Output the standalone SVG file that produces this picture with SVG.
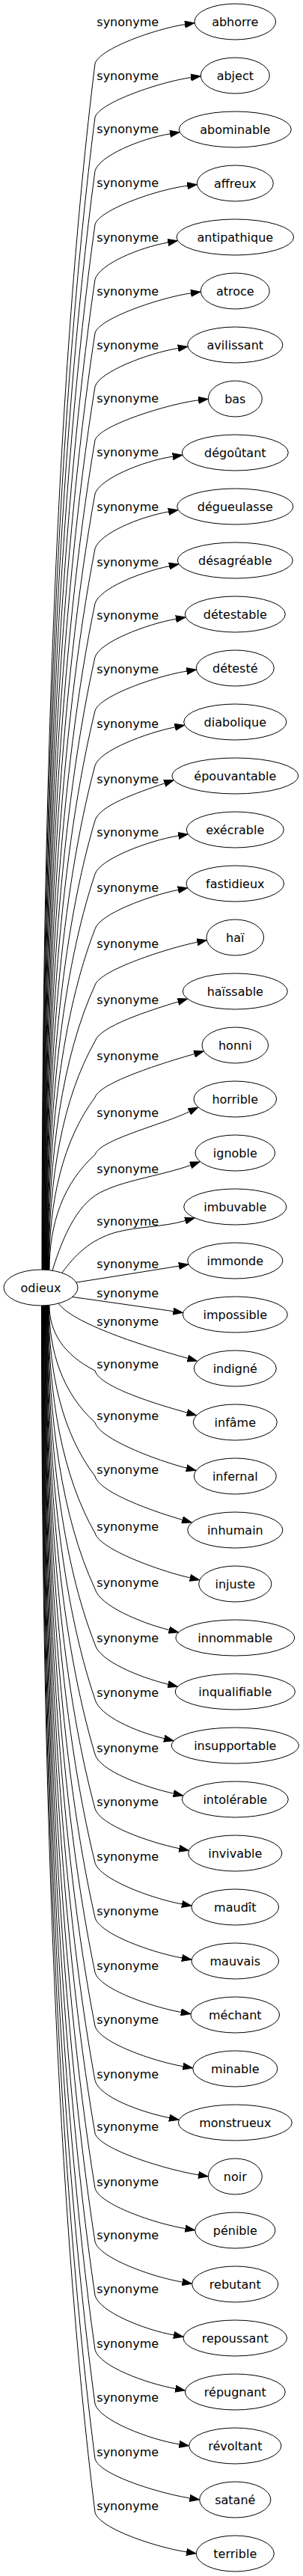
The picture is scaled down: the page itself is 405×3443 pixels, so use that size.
<svg xmlns="http://www.w3.org/2000/svg" width="405" height="3443" viewBox="0 0 405 3443">
<style>
text{font-family:"DejaVu Sans","Liberation Sans",sans-serif;font-size:16px;fill:#000;text-anchor:middle}
.n ellipse{fill:none;stroke:#000;stroke-width:1}
.e path{fill:none;stroke:#000;stroke-width:1;marker-end:url(#ah)}
</style>
<defs>
<marker id="ah" viewBox="0 0 14 10" refX="0" refY="5" markerWidth="14" markerHeight="10" markerUnits="userSpaceOnUse" orient="auto"><path d="M0,0.33 L13.3,5 L0,9.67 z" fill="#000" stroke="#000" stroke-width="0.8"/></marker>
</defs>
<rect width="405" height="3443" fill="#fff"/>
<g id="edges" class="e">
<path d="M56,1697 C56,1052 77.3,488 127,85 C133,65 207.4,38.7 247,32.7"/>
<path d="M56.5,1697 C56.5,1081 77.7,541.8 127,156.7 C133,136.7 215.5,109.2 255.1,103.6"/>
<path d="M57,1697 C57,1109.5 78,595.5 127,228.3 C133,208.3 187.6,185.4 227.1,178.9"/>
<path d="M57.5,1697 C57.5,1138.2 78.4,649.3 127,300 C133,280 210.6,253.2 250.3,248.3"/>
<path d="M58,1697 C58,1167.5 78.7,704.2 127,373.3 C133,353.3 185,331.2 224.4,324.1"/>
<path d="M58.5,1697 C58.5,1196.2 79,758 127,445 C133,425 215.5,397.5 255.1,391.9"/>
<path d="M59,1697 C59,1224.9 79.4,811.8 127,516.7 C133,496.7 198.4,472 237.9,465.5"/>
<path d="M59.5,1697 C59.5,1253.5 79.8,865.5 127,588.3 C133,568.3 225.4,539.7 265.1,534.9"/>
<path d="M60,1697 C60,1282.2 80.1,919.3 127,660 C133,640 191.2,616.1 230.8,610.2"/>
<path d="M60.5,1697 C60.5,1311.5 80.5,974.2 127,733.3 C133,713.3 185.7,691 225.1,684"/>
<path d="M61,1697 C61,1340.9 80.8,1029.3 127,806.7 C133,786.7 186.9,764.9 226,756.7"/>
<path d="M61.5,1697 C61.5,1369.5 81.2,1083 127,878.3 C133,858.3 195.7,834.2 235.1,827.3"/>
<path d="M62,1697 C62,1398.2 81.5,1136.8 127,950 C133,930 209.9,903.3 249.4,897.1"/>
<path d="M62.5,1697 C62.5,1427.5 81.9,1191.7 127,1023.3 C133,1003.3 194.6,979.8 233.8,971.9"/>
<path d="M63,1697 C63,1456.9 82.2,1246.8 127,1096.7 C133,1076.7 182,1060 219.8,1047"/>
<path d="M63.5,1697 C63.5,1485.5 82.6,1300.5 127,1168.3 C133,1148.3 198.8,1123.4 238.3,1117.1"/>
<path d="M64,1697 C64,1514.9 82.9,1355.5 127,1241.7 C133,1221.7 198.7,1197.4 237.9,1189.4"/>
<path d="M64.5,1697 C64.5,1544.9 83.3,1411.8 127,1316.7 C133,1296.7 224.3,1267.2 263.5,1259.3"/>
<path d="M65,1697 C65,1574.9 83.6,1468 127,1391.7 C133,1371.7 199.8,1350.6 238,1338.9"/>
<path d="M65.5,1697 C65.5,1604.9 84,1524.3 127,1466.7 C133,1446.7 221.3,1419.7 259.7,1408.7"/>
<path d="M66,1697 C66,1635.5 84.3,1581.7 127,1543.3 C133,1523.3 217.1,1503.3 253.1,1485.8"/>
<path d="M70,1698 C85,1650 105,1605 140,1591 C170,1577 220,1570 254.7,1557.4"/>
<path d="M83,1701 C100,1678 120,1657 155,1647 C185,1639 216,1640.5 247.5,1631.6"/>
<path d="M102,1714 C150,1706.5 200,1698.5 239,1692.1"/>
<path d="M97,1733.5 C140,1739.5 190,1746.7 231.5,1752.6"/>
<path d="M78,1742 C100,1772 210,1804 250.8,1815.5"/>
<path d="M66,1745 C66,1779.8 84.3,1810.3 127,1832 C133,1854 211.3,1877.4 249.9,1888.1"/>
<path d="M65.5,1745 C65.5,1807.5 84,1862.2 127,1901.3 C133,1923.3 210.4,1952.2 249.2,1962.1"/>
<path d="M65,1745 C65,1836.2 83.6,1916 127,1973 C133,1995 205.3,2020.3 243.7,2031.3"/>
<path d="M64.5,1745 C64.5,1866.6 83.3,1973 127,2049 C133,2071 214.9,2100 253.9,2108.8"/>
<path d="M64,1745 C64,1896.5 82.9,2029 127,2123.7 C133,2145.7 187.1,2168.7 225.9,2178.5"/>
<path d="M63.5,1745 C63.5,1926.2 82.6,2084.8 127,2198 C133,2220 185.7,2241.6 224.6,2251.1"/>
<path d="M63,1745 C63,1955.5 82.2,2139.7 127,2271.3 C133,2293.3 180.5,2314.3 219.4,2323.6"/>
<path d="M62.5,1745 C62.5,1984.9 81.9,2194.8 127,2344.7 C133,2366.7 192.9,2388.5 231.9,2397.1"/>
<path d="M62,1745 C62,2013.9 81.5,2249.2 127,2417.3 C133,2439.3 200.2,2462.6 239.4,2470.6"/>
<path d="M61.5,1745 C61.5,2042.9 81.2,2303.5 127,2489.7 C133,2511.7 203.7,2537.9 243.1,2544.9"/>
<path d="M61,1745 C61,2072.2 80.8,2358.5 127,2563 C133,2585 203.7,2609.9 243.1,2616.9"/>
<path d="M60.5,1745 C60.5,2101.5 80.5,2413.5 127,2636.3 C133,2658.3 202.6,2682.5 242,2689.4"/>
<path d="M60,1745 C60,2130.2 80.1,2467.3 127,2708 C133,2730 205.2,2755.1 244.6,2761.8"/>
<path d="M59.5,1745 C59.5,2159.3 79.8,2521.8 127,2780.7 C133,2802.7 187,2822.6 226.2,2830.6"/>
<path d="M59,1745 C59,2187.5 79.4,2574.7 127,2851.3 C133,2873.3 225.6,2900.7 265.2,2906.9"/>
<path d="M58.5,1745 C58.5,2216.9 79.1,2629.8 127,2924.7 C133,2946.7 208.1,2972.2 247.6,2978.6"/>
<path d="M58,1745 C58,2245.5 78.7,2683.5 127,2996.3 C133,3018.3 204.2,3043.5 243.6,3050.1"/>
<path d="M57.5,1745 C57.5,2274.2 78.4,2737.3 127,3068 C133,3090 192.7,3113.8 232.1,3120.9"/>
<path d="M57,1745 C57,2303.3 78,2791.8 127,3140.7 C133,3162.7 195,3185.4 234.4,3192.6"/>
<path d="M56.5,1745 C56.5,2332.2 77.7,2846 127,3213 C133,3235 200.1,3260.7 239.6,3266.9"/>
<path d="M56,1745 C56,2361.5 77.3,2901 127,3286.3 C133,3308.3 214.1,3332.7 253.6,3338.9"/>
<path d="M55.5,1745 C55.5,2390.2 77,2954.8 127,3358 C133,3380 209.7,3404.7 249.2,3410.9"/>
</g>
<g id="edge-labels">
<text x="170.7" y="35">synonyme</text>
<text x="170.7" y="106.7">synonyme</text>
<text x="170.7" y="178.3">synonyme</text>
<text x="170.7" y="250">synonyme</text>
<text x="170.7" y="323.3">synonyme</text>
<text x="170.7" y="395">synonyme</text>
<text x="170.7" y="466.7">synonyme</text>
<text x="170.7" y="538.3">synonyme</text>
<text x="170.7" y="610">synonyme</text>
<text x="170.7" y="683.3">synonyme</text>
<text x="170.7" y="756.7">synonyme</text>
<text x="170.7" y="828.3">synonyme</text>
<text x="170.7" y="900">synonyme</text>
<text x="170.7" y="973.3">synonyme</text>
<text x="170.7" y="1046.7">synonyme</text>
<text x="170.7" y="1118.3">synonyme</text>
<text x="170.7" y="1191.7">synonyme</text>
<text x="170.7" y="1266.7">synonyme</text>
<text x="170.7" y="1341.7">synonyme</text>
<text x="170.7" y="1416.7">synonyme</text>
<text x="170.7" y="1493.3">synonyme</text>
<text x="170.7" y="1568.3">synonyme</text>
<text x="170.7" y="1638.3">synonyme</text>
<text x="170.7" y="1695">synonyme</text>
<text x="170.7" y="1734.3">synonyme</text>
<text x="170.7" y="1772.3">synonyme</text>
<text x="170.7" y="1829">synonyme</text>
<text x="170.7" y="1898.3">synonyme</text>
<text x="170.7" y="1970">synonyme</text>
<text x="170.7" y="2046">synonyme</text>
<text x="170.7" y="2120.7">synonyme</text>
<text x="170.7" y="2195">synonyme</text>
<text x="170.7" y="2268.3">synonyme</text>
<text x="170.7" y="2341.7">synonyme</text>
<text x="170.7" y="2414.3">synonyme</text>
<text x="170.7" y="2486.7">synonyme</text>
<text x="170.7" y="2560">synonyme</text>
<text x="170.7" y="2633.3">synonyme</text>
<text x="170.7" y="2705">synonyme</text>
<text x="170.7" y="2777.7">synonyme</text>
<text x="170.7" y="2848.3">synonyme</text>
<text x="170.7" y="2921.7">synonyme</text>
<text x="170.7" y="2993.3">synonyme</text>
<text x="170.7" y="3065">synonyme</text>
<text x="170.7" y="3137.7">synonyme</text>
<text x="170.7" y="3210">synonyme</text>
<text x="170.7" y="3283.3">synonyme</text>
<text x="170.7" y="3355">synonyme</text>
</g>
<g id="n-odieux" class="n"><ellipse cx="54.5" cy="1721" rx="49.5" ry="24"/><text x="54.5" y="1726.5">odieux</text></g>
<g id="n-abhorre" class="n"><ellipse cx="314.3" cy="29" rx="54.3" ry="24"/><text x="314.3" y="34.5">abhorre</text></g>
<g id="n-abject" class="n"><ellipse cx="314.3" cy="101" rx="46" ry="24"/><text x="314.3" y="106.5">abject</text></g>
<g id="n-abominable" class="n"><ellipse cx="314.3" cy="173" rx="75" ry="24"/><text x="314.3" y="178.5">abominable</text></g>
<g id="n-affreux" class="n"><ellipse cx="314.3" cy="245" rx="51" ry="24"/><text x="314.3" y="250.5">affreux</text></g>
<g id="n-antipathique" class="n"><ellipse cx="314.3" cy="317" rx="78.3" ry="24"/><text x="314.3" y="322.5">antipathique</text></g>
<g id="n-atroce" class="n"><ellipse cx="314.3" cy="389" rx="46" ry="24"/><text x="314.3" y="394.5">atroce</text></g>
<g id="n-avilissant" class="n"><ellipse cx="314.3" cy="461" rx="63.6" ry="24"/><text x="314.3" y="466.5">avilissant</text></g>
<g id="n-bas" class="n"><ellipse cx="314.3" cy="533" rx="36" ry="24"/><text x="314.3" y="538.5">bas</text></g>
<g id="n-degoutant" class="n"><ellipse cx="314.3" cy="605" rx="71" ry="24"/><text x="314.3" y="610.5">dégoûtant</text></g>
<g id="n-degueulasse" class="n"><ellipse cx="314.3" cy="677" rx="77.6" ry="24"/><text x="314.3" y="682.5">dégueulasse</text></g>
<g id="n-desagreable" class="n"><ellipse cx="314.3" cy="749" rx="77" ry="24"/><text x="314.3" y="754.5">désagréable</text></g>
<g id="n-detestable" class="n"><ellipse cx="314.3" cy="821" rx="67" ry="24"/><text x="314.3" y="826.5">détestable</text></g>
<g id="n-deteste" class="n"><ellipse cx="314.3" cy="893" rx="52" ry="24"/><text x="314.3" y="898.5">détesté</text></g>
<g id="n-diabolique" class="n"><ellipse cx="314.3" cy="965" rx="68.6" ry="24"/><text x="314.3" y="970.5">diabolique</text></g>
<g id="n-epouvantable" class="n"><ellipse cx="314.3" cy="1037" rx="84.3" ry="24"/><text x="314.3" y="1042.5">épouvantable</text></g>
<g id="n-execrable" class="n"><ellipse cx="314.3" cy="1109" rx="65" ry="24"/><text x="314.3" y="1114.5">exécrable</text></g>
<g id="n-fastidieux" class="n"><ellipse cx="314.3" cy="1181" rx="65.3" ry="24"/><text x="314.3" y="1186.5">fastidieux</text></g>
<g id="n-hai" class="n"><ellipse cx="314.3" cy="1253" rx="38.3" ry="24"/><text x="314.3" y="1258.5">haï</text></g>
<g id="n-haissable" class="n"><ellipse cx="314.3" cy="1325" rx="70" ry="24"/><text x="314.3" y="1330.5">haïssable</text></g>
<g id="n-honni" class="n"><ellipse cx="314.3" cy="1397" rx="44.3" ry="24"/><text x="314.3" y="1402.5">honni</text></g>
<g id="n-horrible" class="n"><ellipse cx="314.3" cy="1469" rx="55.3" ry="24"/><text x="314.3" y="1474.5">horrible</text></g>
<g id="n-ignoble" class="n"><ellipse cx="314.3" cy="1541" rx="53.3" ry="24"/><text x="314.3" y="1546.5">ignoble</text></g>
<g id="n-imbuvable" class="n"><ellipse cx="314.3" cy="1613" rx="68.6" ry="24"/><text x="314.3" y="1618.5">imbuvable</text></g>
<g id="n-immonde" class="n"><ellipse cx="314.3" cy="1685" rx="63.6" ry="24"/><text x="314.3" y="1690.5">immonde</text></g>
<g id="n-impossible" class="n"><ellipse cx="314.3" cy="1757" rx="70" ry="24"/><text x="314.3" y="1762.5">impossible</text></g>
<g id="n-indigne" class="n"><ellipse cx="314.3" cy="1829" rx="55" ry="24"/><text x="314.3" y="1834.5">indigné</text></g>
<g id="n-infame" class="n"><ellipse cx="314.3" cy="1901" rx="56" ry="24"/><text x="314.3" y="1906.5">infâme</text></g>
<g id="n-infernal" class="n"><ellipse cx="314.3" cy="1973" rx="55" ry="24"/><text x="314.3" y="1978.5">infernal</text></g>
<g id="n-inhumain" class="n"><ellipse cx="314.3" cy="2045" rx="63.6" ry="24"/><text x="314.3" y="2050.5">inhumain</text></g>
<g id="n-injuste" class="n"><ellipse cx="314.3" cy="2117" rx="48.6" ry="24"/><text x="314.3" y="2122.5">injuste</text></g>
<g id="n-innommable" class="n"><ellipse cx="314.3" cy="2189" rx="79.3" ry="24"/><text x="314.3" y="2194.5">innommable</text></g>
<g id="n-inqualifiable" class="n"><ellipse cx="314.3" cy="2261" rx="80" ry="24"/><text x="314.3" y="2266.5">inqualifiable</text></g>
<g id="n-insupportable" class="n"><ellipse cx="314.3" cy="2333" rx="85" ry="24"/><text x="314.3" y="2338.5">insupportable</text></g>
<g id="n-intolerable" class="n"><ellipse cx="314.3" cy="2405" rx="71" ry="24"/><text x="314.3" y="2410.5">intolérable</text></g>
<g id="n-invivable" class="n"><ellipse cx="314.3" cy="2477" rx="62.6" ry="24"/><text x="314.3" y="2482.5">invivable</text></g>
<g id="n-maudit" class="n"><ellipse cx="314.3" cy="2549" rx="58.3" ry="24"/><text x="314.3" y="2554.5">maudît</text></g>
<g id="n-mauvais" class="n"><ellipse cx="314.3" cy="2621" rx="58.3" ry="24"/><text x="314.3" y="2626.5">mauvais</text></g>
<g id="n-mechant" class="n"><ellipse cx="314.3" cy="2693" rx="59.3" ry="24"/><text x="314.3" y="2698.5">méchant</text></g>
<g id="n-minable" class="n"><ellipse cx="314.3" cy="2765" rx="56.6" ry="24"/><text x="314.3" y="2770.5">minable</text></g>
<g id="n-monstrueux" class="n"><ellipse cx="314.3" cy="2837" rx="76" ry="24"/><text x="314.3" y="2842.5">monstrueux</text></g>
<g id="n-noir" class="n"><ellipse cx="314.3" cy="2909" rx="36" ry="24"/><text x="314.3" y="2914.5">noir</text></g>
<g id="n-penible" class="n"><ellipse cx="314.3" cy="2981" rx="53.6" ry="24"/><text x="314.3" y="2986.5">pénible</text></g>
<g id="n-rebutant" class="n"><ellipse cx="314.3" cy="3053" rx="57.6" ry="24"/><text x="314.3" y="3058.5">rebutant</text></g>
<g id="n-repoussant" class="n"><ellipse cx="314.3" cy="3125" rx="69.3" ry="24"/><text x="314.3" y="3130.5">repoussant</text></g>
<g id="n-repugnant" class="n"><ellipse cx="314.3" cy="3197" rx="67" ry="24"/><text x="314.3" y="3202.5">répugnant</text></g>
<g id="n-revoltant" class="n"><ellipse cx="314.3" cy="3269" rx="61.6" ry="24"/><text x="314.3" y="3274.5">révoltant</text></g>
<g id="n-satane" class="n"><ellipse cx="314.3" cy="3341" rx="47.6" ry="24"/><text x="314.3" y="3346.5">satané</text></g>
<g id="n-terrible" class="n"><ellipse cx="314.3" cy="3413" rx="52" ry="24"/><text x="314.3" y="3418.5">terrible</text></g>
</svg>
